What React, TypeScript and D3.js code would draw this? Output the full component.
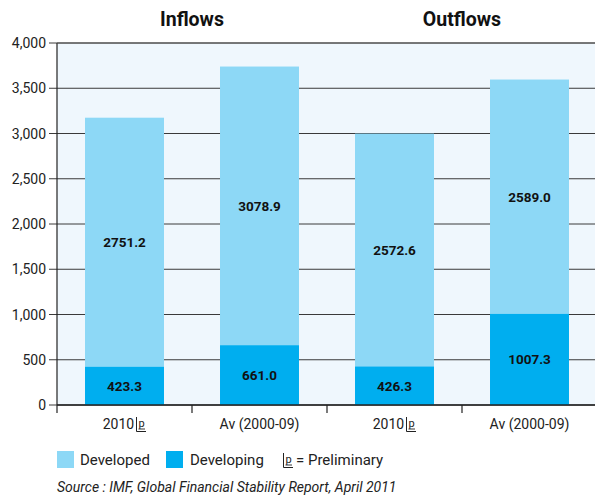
import React from "react";
import * as d3 from "d3";

const groups = ["Inflows", "Outflows"];
const periods = ["2010", "Av (2000-09)"];
const preliminary = [true, false];
const categories = ["Inflows|2010", "Inflows|Av", "Outflows|2010", "Outflows|Av"];
const developing = [423.3, 661.0, 426.3, 1007.3];
const developed = [2751.2, 3078.9, 2572.6, 2589.0];
const yTicks = [0, 500, 1000, 1500, 2000, 2500, 3000, 3500, 4000];

const W = 595;
const H = 496;
const M = { left: 57, right: 597, top: 43, bottom: 405 };
const C_DEVELOPED = "#8DD8F6";
const C_DEVELOPING = "#00AEEF";
const FONT = "Roboto, 'Noto Sans', sans-serif";

function PrelimMark({ x, y }: { x: number; y: number }) {
  // bracketed "p" marker for preliminary figures
  return (
    <g>
      <path d={`M${x + 0.5},${y - 12} V${y + 2.5} H${x + 10}`} stroke="#222" strokeWidth={1} fill="none" />
      <text x={x + 2.5} y={y - 2} fontSize={11} fontFamily={FONT} fill="#222">p</text>
      <line x1={x + 2.5} x2={x + 9} y1={y} y2={y} stroke="#222" strokeWidth={0.9} />
    </g>
  );
}

export default function App() {
  const x = d3.scaleBand<string>().domain(categories).range([M.left, M.right]).paddingInner(0.415).paddingOuter(0.2075);
  const y = d3.scaleLinear().domain([0, 4000]).range([M.bottom, M.top]);
  const step = x.step();
  const fmt = d3.format(",");

  return (
    <svg width={W} height={H} style={{ position: "absolute", left: 0, top: 0 }}>
      <rect x={M.left} y={M.top} width={W - M.left} height={M.bottom - M.top} fill="#EFF7FD" />
      {yTicks.map((t) => (
        <g key={t}>
          <line x1={49} x2={W} y1={y(t)} y2={y(t)} stroke="#3a3a3a" strokeWidth={1} />
          <text x={46} y={y(t) + 5} textAnchor="end" fontSize={14} fontFamily={FONT} fill="#222">
            {fmt(t)}
          </text>
        </g>
      ))}
      {categories.map((c, i) => {
        const bx = x(c)!;
        const bw = x.bandwidth();
        const y0 = y(0);
        const y1 = y(developing[i]);
        const y2 = y(developing[i] + developed[i]);
        return (
          <g key={c}>
            <rect x={bx} y={y2} width={bw} height={y1 - y2} fill={C_DEVELOPED} />
            <rect x={bx} y={y1} width={bw} height={y0 - y1} fill={C_DEVELOPING} />
            <text x={bx + bw / 2} y={(y1 + y2) / 2 + 5} textAnchor="middle" fontSize={13.5} fontWeight="bold" fontFamily={FONT} fill="#111">
              {developed[i].toFixed(1)}
            </text>
            <text x={bx + bw / 2} y={(y0 + y1) / 2 + 5} textAnchor="middle" fontSize={13.5} fontWeight="bold" fontFamily={FONT} fill="#111">
              {developing[i].toFixed(1)}
            </text>
          </g>
        );
      })}
      {/* axes */}
      <line x1={M.left} x2={M.left} y1={M.top} y2={413} stroke="#222" strokeWidth={1.2} />
      <line x1={M.left} x2={W} y1={M.bottom} y2={M.bottom} stroke="#222" strokeWidth={1.5} />
      <line x1={M.left} x2={W} y1={M.top} y2={M.top} stroke="#555" strokeWidth={1.2} />
      {[1, 2, 3].map((k) => (
        <line key={k} x1={M.left + step * k} x2={M.left + step * k} y1={M.bottom} y2={413} stroke="#222" strokeWidth={1.2} />
      ))}
      {categories.map((c, i) => {
        const cx = x(c)! + x.bandwidth() / 2;
        const p = i % 2;
        return preliminary[p] ? (
          <g key={c}>
            <text x={cx - 6} y={429} textAnchor="middle" fontSize={14} fontFamily={FONT} fill="#222">{periods[p]}</text>
            <PrelimMark x={cx + 11.5} y={429} />
          </g>
        ) : (
          <text key={c} x={cx} y={429} textAnchor="middle" fontSize={14} fontFamily={FONT} fill="#222">{periods[p]}</text>
        );
      })}
      {groups.map((g, i) => (
        <text key={g} x={M.left + step * (2 * i + 1)} y={26} textAnchor="middle" fontSize={19.5} fontWeight="bold" fontFamily={FONT} fill="#111">
          {g}
        </text>
      ))}
      {/* legend */}
      <rect x={57} y={451} width={17} height={17} fill={C_DEVELOPED} />
      <text x={80} y={465} fontSize={15} fontFamily={FONT} fill="#222">Developed</text>
      <rect x={166} y={451} width={17} height={17} fill={C_DEVELOPING} />
      <text x={190} y={465} fontSize={15} fontFamily={FONT} fill="#222">Developing</text>
      <PrelimMark x={283} y={465} />
      <text x={296} y={465} fontSize={15} fontFamily={FONT} fill="#222">= Preliminary</text>
      <text x={57} y={492} fontSize={14} fontStyle="italic" fontFamily={FONT} fill="#222">
        Source : IMF, Global Financial Stability Report, April 2011
      </text>
    </svg>
  );
}
